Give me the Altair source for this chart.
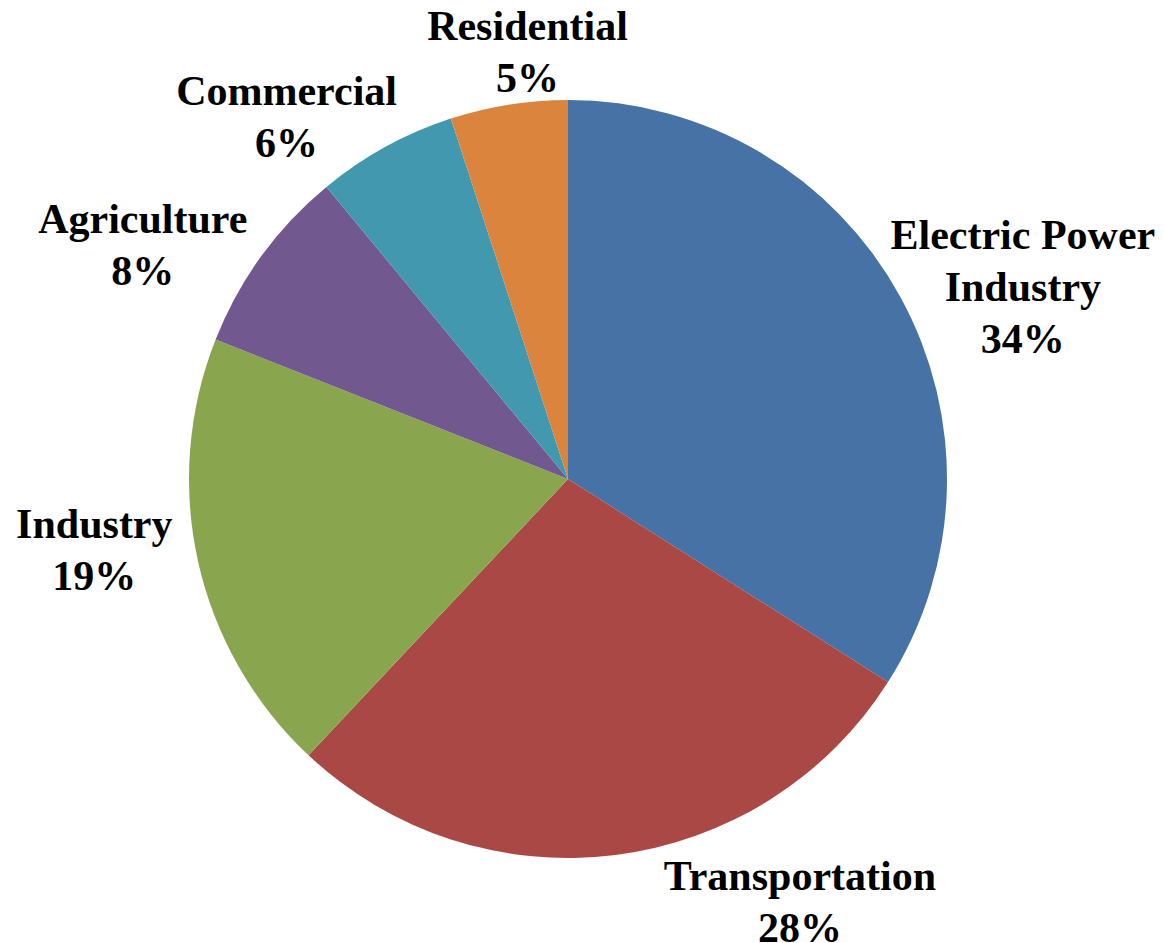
import math
import altair as alt
import pandas as pd

categories = ["Electric Power Industry", "Transportation", "Industry",
              "Agriculture", "Commercial", "Residential"]
label_lines = ["Electric Power\nIndustry", "Transportation", "Industry",
               "Agriculture", "Commercial", "Residential"]
shares = [34, 28, 19, 8, 6, 5]
colors = ["#4672A6", "#A94845", "#89A54E", "#71588F", "#4198AF", "#DB843D"]

df = pd.DataFrame({
    "idx": list(range(len(categories))),
    "category": categories,
    "lines": label_lines,
    "value": shares,
})

CX, CY = 560, 471
R = 379
TWO_PI = 2 * math.pi

base = alt.Chart(df).transform_window(
    cum="sum(value)", sort=[alt.SortField("idx")], frame=[None, 0]
).transform_calculate(
    start="datum.cum - datum.value",
    mid="datum.cum - datum.value / 2",
    text="datum.lines + '\\n' + datum.value + '%'",
)

theta_scale = alt.Scale(domain=[0, 100], range=[0, TWO_PI])

pie = base.mark_arc(outerRadius=R).encode(
    x=alt.value(CX), y=alt.value(CY),
    theta=alt.Theta("start:Q", scale=theta_scale),
    theta2="cum:Q",
    color=alt.Color("category:N", scale=alt.Scale(domain=categories, range=colors), legend=None),
)

offsets = {
    "Electric Power Industry": (43, -4),
    "Transportation": (173, -55),
    "Industry": (-15, -44),
    "Agriculture": (-45, 30),
    "Commercial": (-55, 38),
    "Residential": (33, 25),
}

layers = [pie]
for cat in categories:
    dx, dy = offsets[cat]
    layers.append(
        base.transform_filter(alt.datum.category == cat).mark_text(
            font="Liberation Serif", fontWeight="bold", fontSize=42,
            lineHeight=52, lineBreak="\n", align="center", baseline="alphabetic",
            radius=470, dx=dx, dy=dy, color="black",
        ).encode(
            x=alt.value(CX), y=alt.value(CY),
            theta=alt.Theta("mid:Q", scale=theta_scale),
            text="text:N",
        )
    )

chart = alt.layer(*layers).properties(
    width=1148, height=934, padding=0, autosize=alt.AutoSizeParams(type="none")
).configure_view(stroke=None)

chart.save("out.html", embed_options={"renderer": "svg", "actions": False})
